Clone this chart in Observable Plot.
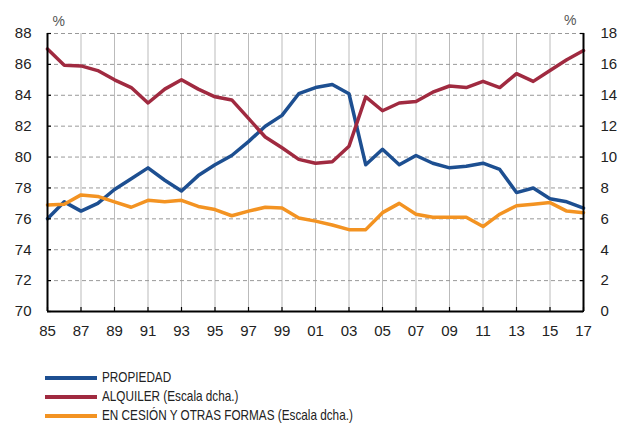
<!DOCTYPE html>
<html>
<head>
<meta charset="utf-8">
<script src="https://cdn.jsdelivr.net/npm/d3@7"></script>
<script src="https://cdn.jsdelivr.net/npm/@observablehq/plot@0.6"></script>
<style>
  body { margin: 0; background: #fff; font-family: "Liberation Sans", Arial, sans-serif; }
  #chart { position: relative; width: 620px; }
  #chart svg { display: block; }
  .legend { margin-top: 23px; margin-left: 45px; font-family: "Liberation Sans", Arial, sans-serif; font-size: 14.5px; color: #222; }
  .legend .row { display: flex; align-items: center; height: 19px; }
  .legend .sw { width: 52px; height: 4px; margin-right: 5px; flex: none; }
  .legend .lb { display: inline-block; transform: scaleX(0.81); transform-origin: left center; white-space: nowrap; line-height: 17px; }
</style>
</head>
<body>
<div id="chart"></div>
<script>
const years = d3.range(1985, 2018);
const propiedad = [76.0, 77.1, 76.5, 77.0, 77.9, 78.6, 79.3, 78.5, 77.8, 78.8, 79.5, 80.1, 81.0, 82.0, 82.7, 84.1, 84.5, 84.7, 84.1, 79.5, 80.5, 79.5, 80.1, 79.6, 79.3, 79.4, 79.6, 79.2, 77.7, 78.0, 77.3, 77.1, 76.7];
const alquiler = [17.0, 15.95, 15.9, 15.6, 15.0, 14.5, 13.5, 14.4, 15.0, 14.4, 13.9, 13.7, 12.5, 11.3, 10.6, 9.85, 9.6, 9.7, 10.7, 13.9, 13.0, 13.5, 13.6, 14.2, 14.6, 14.5, 14.9, 14.5, 15.4, 14.9, 15.6, 16.3, 16.9];
const cesion = [6.9, 6.95, 7.55, 7.45, 7.1, 6.75, 7.2, 7.1, 7.2, 6.8, 6.6, 6.2, 6.5, 6.75, 6.7, 6.05, 5.85, 5.6, 5.3, 5.3, 6.4, 7.0, 6.3, 6.1, 6.1, 6.1, 5.5, 6.3, 6.85, 6.95, 7.05, 6.5, 6.4];
const xTicks = d3.range(1985, 2018, 2);
const leftTicks = d3.range(70, 89, 2);
const rightTicks = d3.range(0, 19, 2);
const seriesNames = ["PROPIEDAD", "ALQUILER (Escala dcha.)", "EN CESIÓN Y OTRAS FORMAS (Escala dcha.)"];
const colors = ["#1d4f91", "#a02a40", "#f39322"];

// right-axis values mapped onto left scale: left = 70 + right
const offset = 70;
const rows = [];
years.forEach((y, i) => {
  rows.push({year: y, v: propiedad[i], s: seriesNames[0]});
  rows.push({year: y, v: offset + alquiler[i], s: seriesNames[1]});
  rows.push({year: y, v: offset + cesion[i], s: seriesNames[2]});
});

const chart = Plot.plot({
  width: 620,
  height: 345,
  marginLeft: 47,
  marginRight: 37,
  marginTop: 33,
  marginBottom: 34,
  style: {fontFamily: "Liberation Sans, Arial, sans-serif", fontSize: "15px", color: "#222", background: "#fff"},
  x: {domain: [1985, 2017]},
  y: {domain: [70, 88]},
  color: {domain: seriesNames, range: colors},
  marks: [
    Plot.gridX(xTicks, {stroke: "#bbb", strokeOpacity: 1, strokeWidth: 1}),
    Plot.gridY(leftTicks.filter(d => d > 70), {stroke: "#999", strokeOpacity: 1, strokeDasharray: "4,3"}),
    Plot.line(rows, {x: "year", y: "v", z: "s", stroke: "s", strokeWidth: 3.5, strokeLinejoin: "round"}),
    Plot.axisY(leftTicks, {anchor: "left", tickSize: -4, tickPadding: 20, stroke: "#000", strokeWidth: 1.2, fontSize: 15, label: null}),
    Plot.axisY(leftTicks, {anchor: "right", tickSize: -4, tickPadding: 21, stroke: "#000", strokeWidth: 1.2, fontSize: 15, tickFormat: d => String(d - offset), label: null}),
    Plot.axisX(xTicks, {anchor: "bottom", tickSize: -4, tickPadding: 18, stroke: "#000", strokeWidth: 1.2, fontSize: 15, tickFormat: d => String(d % 100).padStart(2, "0"), label: null}),
    Plot.ruleX([1985, 2017], {stroke: "#000", strokeWidth: 2}),
    Plot.ruleY([70], {stroke: "#000", strokeWidth: 2}),
    Plot.text(["%"], {frameAnchor: "top-left", dy: -17, dx: 5, fontSize: 14, fill: "#555"}),
    Plot.text(["%"], {frameAnchor: "top-right", dy: -18, dx: -7, fontSize: 14, fill: "#555"})
  ]
});
document.getElementById("chart").appendChild(chart);

const legend = document.createElement("div");
legend.className = "legend";
seriesNames.forEach((name, i) => {
  const row = document.createElement("div");
  row.className = "row";
  const sw = document.createElement("span");
  sw.className = "sw";
  sw.style.background = colors[i];
  const label = document.createElement("span");
  label.className = "lb";
  label.textContent = name;
  row.appendChild(sw);
  row.appendChild(label);
  legend.appendChild(row);
});
document.getElementById("chart").appendChild(legend);
</script>
</body>
</html>
